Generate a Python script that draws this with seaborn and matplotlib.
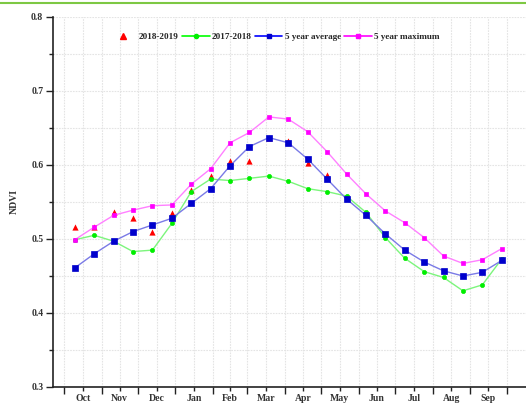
import numpy as np
import pandas as pd
import matplotlib
matplotlib.use("Agg")
import matplotlib.pyplot as plt
from matplotlib.lines import Line2D
import seaborn as sns

# composite position (days since 1 Oct)
days = [9, 25, 41, 57, 73, 89, 105, 121, 137, 153, 169, 185,
        201, 217, 233, 249, 265, 281, 297, 313, 329, 345, 361]

ndvi_2018_2019 = [0.516, 0.516, 0.537, 0.529, 0.509, 0.535, 0.566, 0.585, 0.606,
                  0.606, 0.636, 0.633, 0.603, 0.586] + [np.nan] * 9
ndvi_2017_2018 = [0.499, 0.505, 0.497, 0.483, 0.485, 0.521, 0.564, 0.581, 0.579,
                  0.582, 0.585, 0.578, 0.568, 0.564, 0.558, 0.536, 0.502, 0.474,
                  0.456, 0.448, 0.430, 0.438, 0.473]
ndvi_5yr_avg = [0.461, 0.480, 0.497, 0.510, 0.519, 0.528, 0.548, 0.568, 0.599,
                0.625, 0.637, 0.630, 0.608, 0.581, 0.554, 0.532, 0.507, 0.485,
                0.469, 0.457, 0.450, 0.455, 0.471]
ndvi_5yr_max = [0.499, 0.516, 0.532, 0.539, 0.545, 0.546, 0.574, 0.595, 0.630,
                0.644, 0.665, 0.662, 0.645, 0.618, 0.588, 0.561, 0.538, 0.522,
                0.502, 0.477, 0.467, 0.472, 0.487]

months = ["Oct", "Nov", "Dec", "Jan", "Feb", "Mar", "Apr", "May", "Jun", "Jul", "Aug", "Sep"]
month_lengths = [31, 30, 31, 31, 28, 31, 30, 31, 30, 31, 31, 30]

sns.set_theme(style="white")
plt.rcParams["font.family"] = ["Liberation Serif", "DejaVu Serif"]
plt.rcParams["font.weight"] = "bold"

df = pd.DataFrame({"day": days, "r": ndvi_2018_2019, "g": ndvi_2017_2018,
                   "b": ndvi_5yr_avg, "m": ndvi_5yr_max})

fig = plt.figure(figsize=(5.26, 4.03), dpi=100)
ax = fig.add_axes([53 / 526, 1 - 387 / 403, 1 - 53 / 526, 370 / 403])

sns.scatterplot(data=df, x="day", y="r", ax=ax, marker="^", color="#ff0000",
                s=20, linewidth=0, zorder=2)
series = [("g", "#7cf57c", "#00ee00", 3.0),
          ("b", "#7a7ae6", "#0000cc", 4.0),
          ("m", "#ff80ff", "#ff00ff", 3.3)]
handles = [Line2D([], [], ls="none", marker="^", color="#ff0000", markersize=4.2)]
mk = {"g": "o", "b": "s", "m": "s"}
leg_line = {"g": "#00ff00", "b": "#0000ff", "m": "#ff00ff"}
for key, lc, mc, ms in series:
    sns.lineplot(data=df, x="day", y=key, ax=ax, color=lc, lw=1.0, zorder=3)
    ln = ax.lines[-1]
    ln.set_marker(mk[key])
    ln.set_markersize(ms)
    ln.set_markerfacecolor(mc)
    ln.set_markeredgecolor(mc)
    ln.set_markeredgewidth(0.5)
    handles.append(Line2D([], [], color=leg_line[key], lw=1.2, marker=mk[key],
                          markersize=3, markerfacecolor=mc, markeredgecolor=mc))

labels = ["2018-2019", "2017-2018", "5 year average", "5 year maximum"]
ax.legend(handles, labels, loc="center", bbox_to_anchor=(0.468, 0.946), ncol=4,
          frameon=False, handlelength=3.0, handletextpad=0.25,
          columnspacing=0.35, prop={"weight": "bold", "size": 6.6})

ax.set_xlim(-9, 381)
ax.set_ylim(0.3, 0.8)

bounds = np.concatenate([[0], np.cumsum(month_lengths)])
centers = (bounds[:-1] + bounds[1:]) / 2
ax.set_xticks(bounds)
ax.set_xticklabels([])
ax.set_xticks(centers, minor=True)
ax.set_xticklabels(months, minor=True, fontsize=7, fontweight="bold")
ax.set_yticks([0.3, 0.4, 0.5, 0.6, 0.7, 0.8])
ax.set_yticklabels(["0.3", "0.4", "0.5", "0.6", "0.7", "0.8"], fontsize=7, fontweight="bold")
ax.set_yticks([0.35, 0.45, 0.55, 0.65, 0.75], minor=True)

ax.tick_params(axis="x", which="major", direction="out", length=5, width=1, color="#222222", bottom=True)
ax.tick_params(axis="x", which="minor", direction="out", length=3, width=1, color="#222222", bottom=True, pad=2)
ax.tick_params(axis="y", which="major", direction="out", length=5, width=1, color="#222222", left=True, pad=2)
ax.tick_params(axis="y", which="minor", direction="out", length=3, width=1, color="#222222", left=True)
for lab in ax.get_xticklabels(minor=True) + ax.get_yticklabels():
    lab.set_color("#333333")

ax.grid(True, which="both", color="#e4e4e4", lw=0.8, ls=(0, (1.5, 1)))
ax.set_axisbelow(True)
for side in ["top", "right"]:
    ax.spines[side].set_visible(False)
for side in ["left", "bottom"]:
    ax.spines[side].set_color("#222222")
    ax.spines[side].set_linewidth(1.2)

ax.set_xlabel("")
ax.set_ylabel("NDVI", fontsize=7, fontweight="bold", labelpad=9, color="#333333")

fig.add_artist(Line2D([0, 1], [1 - 2.5 / 403, 1 - 2.5 / 403], color="#7dc843", lw=1.5,
                      transform=fig.transFigure))

fig.savefig("out.png", dpi=100)
